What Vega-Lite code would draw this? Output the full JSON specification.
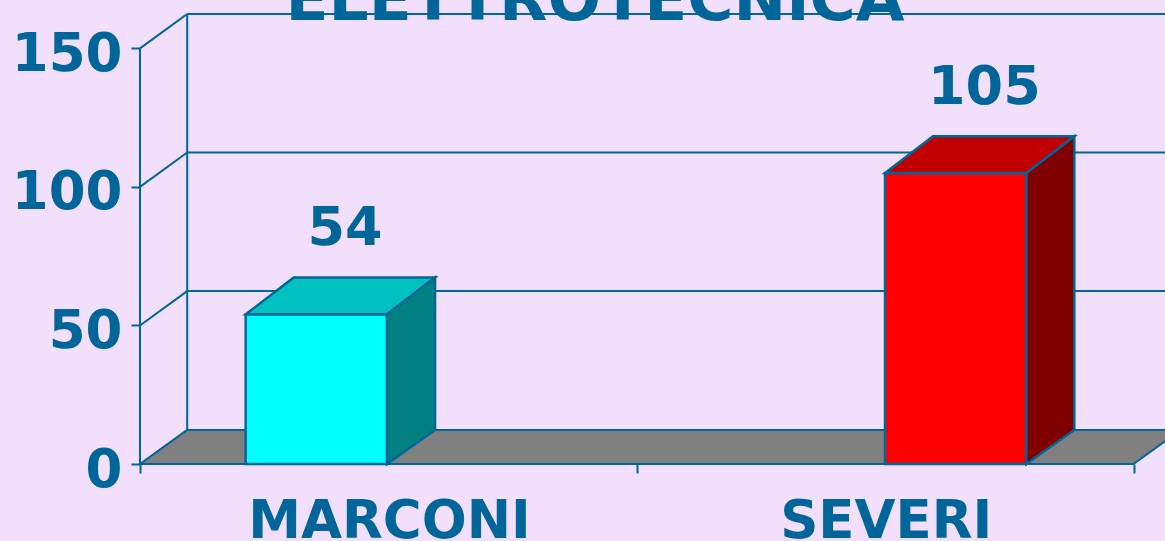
{
  "$schema": "https://vega.github.io/schema/vega-lite/v6.json",
  "width": 1025,
  "height": 464,
  "autosize": "none",
  "padding": {"left": 140, "top": 0, "right": 0, "bottom": 77},
  "background": "#F1DFFB",
  "datasets": {
    "schools": [
      {"school": "MARCONI", "value": 54},
      {"school": "SEVERI", "value": 105}
    ],
    "ticks": [{"tick": 50}, {"tick": 100}, {"tick": 150}]
  },
  "config": {"view": {"stroke": null}},
  "layer": [
    {
      "data": {"name": "schools"},
      "transform": [
        {"window": [{"op": "row_number", "as": "rn"}]},
        {"calculate": "datum.rn - 1", "as": "k"},
        {"calculate": "datum.k * 12.3", "as": "fy"},
        {"calculate": "datum.k * 0.095", "as": "fx"},
        {"calculate": "2 + datum.k * 0.095", "as": "fx2"}
      ],
      "mark": {"type": "area", "orient": "horizontal", "fill": "#808080", "stroke": "#006699", "strokeWidth": 2},
      "encoding": {
        "y": {
          "field": "fy", "type": "quantitative",
          "scale": {"domain": [0, 167.45], "nice": false, "zero": false},
          "axis": {
            "values": [0, 50, 100, 150], "title": null, "domain": false, "grid": false,
            "tickSize": 9, "tickWidth": 2, "tickColor": "#006699",
            "labelFont": "DejaVu Sans", "labelFontWeight": "bold", "labelFontSize": 53,
            "labelColor": "#006699", "labelPadding": 9, "labelBaseline": "middle", "labelOffset": 6,
            "labelOverlap": false, "labelFlush": false, "labelBound": false, "labelLimit": 0
          }
        },
        "x": {
          "field": "fx", "type": "quantitative",
          "scale": {"domain": [0, 2.0634], "nice": false, "zero": false},
          "axis": {
            "values": [0, 1, 2], "title": null, "domain": false, "grid": false,
            "labelExpr": "datum.value === 0 ? 'MARCONI' : (datum.value === 1 ? 'SEVERI' : '')",
            "labelOffset": 249,
            "tickSize": 9, "tickWidth": 2, "tickColor": "#006699",
            "labelFont": "DejaVu Sans", "labelFontWeight": "bold", "labelFontSize": 53,
            "labelColor": "#006699", "labelPadding": 22, "labelBaseline": "top",
            "labelOverlap": false, "labelFlush": false, "labelBound": false, "labelLimit": 0
          }
        },
        "x2": {"field": "fx2"}
      }
    },
    {
      "data": {"name": "ticks"},
      "transform": [
        {"calculate": "datum.tick + 12.4", "as": "back"},
        {"calculate": "0.095", "as": "gx"},
        {"calculate": "2.6", "as": "gx2"}
      ],
      "mark": {"type": "rule", "stroke": "#006699", "strokeWidth": 2},
      "encoding": {
        "x": {"field": "gx", "type": "quantitative"},
        "x2": {"field": "gx2"},
        "y": {"field": "back", "type": "quantitative"},
        "y2": {"field": "back"}
      }
    },
    {
      "data": {"name": "ticks"},
      "transform": [
        {"calculate": "datum.tick + 12.4", "as": "back"},
        {"calculate": "0", "as": "dx0"},
        {"calculate": "0.095", "as": "dx1"}
      ],
      "mark": {"type": "rule", "stroke": "#006699", "strokeWidth": 2},
      "encoding": {
        "x": {"field": "dx0", "type": "quantitative"},
        "x2": {"field": "dx1"},
        "y": {"field": "tick", "type": "quantitative"},
        "y2": {"field": "back"}
      }
    },
    {
      "data": {"name": "ticks"},
      "transform": [
        {"aggregate": [{"op": "max", "field": "tick", "as": "top"}]},
        {"calculate": "0", "as": "base"}
      ],
      "mark": {"type": "rule", "stroke": "#006699", "strokeWidth": 2},
      "encoding": {
        "x": {"field": "base", "type": "quantitative"},
        "x2": {"field": "base"},
        "y": {"field": "base", "type": "quantitative"},
        "y2": {"field": "top"}
      }
    },
    {
      "data": {"name": "ticks"},
      "transform": [
        {"aggregate": [{"op": "max", "field": "tick", "as": "top"}]},
        {"calculate": "datum.top + 12.4", "as": "backtop"},
        {"calculate": "12.3", "as": "backbase"},
        {"calculate": "0.095", "as": "wx"}
      ],
      "mark": {"type": "rule", "stroke": "#006699", "strokeWidth": 2},
      "encoding": {
        "x": {"field": "wx", "type": "quantitative"},
        "x2": {"field": "wx"},
        "y": {"field": "backbase", "type": "quantitative"},
        "y2": {"field": "backtop"}
      }
    },
    {
      "data": {"name": "schools"},
      "transform": [
        {"window": [{"op": "row_number", "as": "rn"}]},
        {"calculate": "0.2128 + (datum.rn - 1) * 1.287", "as": "a"},
        {"calculate": "datum.a + 0.2845", "as": "a2"},
        {"calculate": "0", "as": "base"},
        {"calculate": "datum.school + ' front'", "as": "face"}
      ],
      "mark": {"type": "rect", "stroke": "#006699", "strokeWidth": 2.5},
      "encoding": {
        "x": {"field": "a", "type": "quantitative"},
        "x2": {"field": "a2"},
        "y": {"field": "value", "type": "quantitative"},
        "y2": {"field": "base"},
        "fill": {
          "field": "face", "type": "nominal", "legend": null,
          "scale": {
            "domain": ["MARCONI front", "SEVERI front", "MARCONI top", "SEVERI top", "MARCONI side", "SEVERI side"],
            "range": ["#00FFFF", "#FF0000", "#00C0C0", "#C00000", "#008080", "#800000"]
          }
        }
      }
    },
    {
      "data": {"name": "schools"},
      "transform": [
        {"window": [{"op": "row_number", "as": "rn"}]},
        {"calculate": "0.2128 + (datum.rn - 1) * 1.287", "as": "a"},
        {"calculate": "datum.school + ' top'", "as": "face"},
        {"calculate": "[0, 1]", "as": "k"},
        {"flatten": ["k"]},
        {"calculate": "datum.value + datum.k * 13.3", "as": "ty"},
        {"calculate": "datum.a + datum.k * 0.0966", "as": "tx"},
        {"calculate": "datum.a + 0.2845 + datum.k * 0.0966", "as": "tx2"}
      ],
      "mark": {"type": "area", "orient": "horizontal", "stroke": "#006699", "strokeWidth": 2.5},
      "encoding": {
        "y": {"field": "ty", "type": "quantitative"},
        "x": {"field": "tx", "type": "quantitative"},
        "x2": {"field": "tx2"},
        "fill": {"field": "face", "type": "nominal", "legend": null}
      }
    },
    {
      "data": {"name": "schools"},
      "transform": [
        {"window": [{"op": "row_number", "as": "rn"}]},
        {"calculate": "0.2128 + (datum.rn - 1) * 1.287", "as": "a"},
        {"calculate": "datum.school + ' side'", "as": "face"},
        {"calculate": "[0, 1]", "as": "k"},
        {"flatten": ["k"]},
        {"calculate": "datum.a + 0.2845 + datum.k * 0.0966", "as": "sx"},
        {"calculate": "datum.k * 12.3", "as": "sy"},
        {"calculate": "datum.value + datum.k * 13.3", "as": "sy2"}
      ],
      "mark": {"type": "area", "orient": "vertical", "stroke": "#006699", "strokeWidth": 2.5},
      "encoding": {
        "x": {"field": "sx", "type": "quantitative"},
        "y": {"field": "sy", "type": "quantitative", "stack": null},
        "y2": {"field": "sy2"},
        "fill": {"field": "face", "type": "nominal", "legend": null}
      }
    },
    {
      "data": {"name": "schools"},
      "transform": [
        {"window": [{"op": "row_number", "as": "rn"}]},
        {"calculate": "0.2128 + (datum.rn - 1) * 1.287 + 0.2", "as": "lx"},
        {"calculate": "datum.value + 25", "as": "ly"}
      ],
      "mark": {"type": "text", "font": "DejaVu Sans", "fontWeight": "bold", "fontSize": 54, "color": "#006699", "align": "center", "baseline": "alphabetic"},
      "encoding": {
        "x": {"field": "lx", "type": "quantitative"},
        "y": {"field": "ly", "type": "quantitative"},
        "text": {"field": "value", "type": "quantitative"}
      }
    },
    {
      "data": {"name": "ticks"},
      "transform": [
        {"aggregate": [{"op": "max", "field": "tick", "as": "top"}]},
        {"calculate": "0.916", "as": "tx"},
        {"calculate": "160.2", "as": "ty"}
      ],
      "mark": {"type": "text", "text": "ELETTROTECNICA", "font": "DejaVu Sans", "fontWeight": "bold", "fontSize": 63, "color": "#006699", "align": "center", "baseline": "alphabetic"},
      "encoding": {
        "x": {"field": "tx", "type": "quantitative"},
        "y": {"field": "ty", "type": "quantitative"}
      }
    }
  ]
}
